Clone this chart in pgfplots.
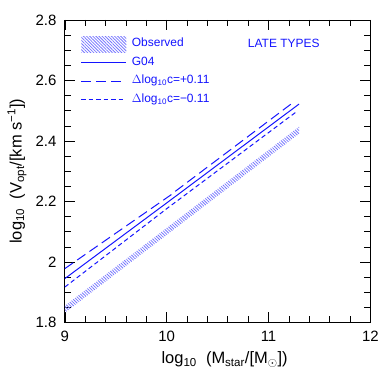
\documentclass[border=0pt]{standalone}
\usepackage{fontspec}
\setmainfont{Liberation Sans}
\usepackage{pgfplots}
\pgfplotsset{compat=1.18}
\usetikzlibrary{patterns.meta,decorations.markings}
\definecolor{lblue}{RGB}{20,20,255}
\definecolor{hblue}{RGB}{120,120,255}
% dashes drawn as short blue strokes along the path
\tikzset{
  bluedash/.style n args={2}{draw=none, postaction={decorate},
    decoration={markings, mark=between positions 0 and -#1 step #2 with
      {\draw[lblue, line width=1pt] (0pt,0pt) -- (#1,0pt);}}},
}
\begin{document}
\begin{tikzpicture}
\begin{axis}[
  scale only axis, width=306pt, height=303pt,
  xmin=9, xmax=12, ymin=1.8, ymax=2.8,
  xtick={9,10,11,12}, ytick={1.8,2,2.2,2.4,2.6,2.8},
  minor x tick num=4, minor y tick num=3,
  tick align=inside, tick pos=both,
  major tick length=10pt, minor tick length=6pt,
  tick style={black, line width=0.6pt},
  axis line style={line width=0.8pt},
  ticklabel style={font=\fontsize{15}{18}\selectfont},
  /pgf/number format/assume math mode=true,
  xticklabel style={yshift=-5pt},
  yticklabel style={xshift=-5pt},
  xlabel={log\textsubscript{10}\ \ (M\textsubscript{star}/[M\textsubscript{$\odot$}])},
  ylabel={log\textsubscript{10}\ \ (V\textsubscript{opt}/[km\ s\textsuperscript{−1}])},
  every axis x label/.style={at={(rel axis cs:0.523,-0.122)}, anchor=center,
    font=\fontsize{16.5}{19}\selectfont},
  every axis y label/.style={at={(rel axis cs:-0.157,0.5)}, rotate=90, anchor=center,
    font=\fontsize{16.5}{19}\selectfont},
  clip=false,
  legend image code/.code={\draw[#1] (0pt,0pt) -- (45pt,0pt);},
  legend style={at={(rel axis cs:0.052,0.948)}, anchor=north west, draw=none, fill=none,
    inner sep=0pt, row sep=1.5pt, column sep=3pt,
    nodes={text height=9pt, text depth=4pt},
    font=\fontsize{12}{14}\selectfont\color{lblue}},
  legend cell align=left,
]
% observed band
\addplot[draw=none, pattern={Lines[angle=-45,distance=2.2pt,line width=0.8pt]}, pattern color=hblue,
  legend image code/.code={\fill[pattern={Lines[angle=-45,distance=2.2pt,line width=0.8pt]}, pattern color=hblue] (0pt,-8pt) rectangle (45pt,8pt);}]
  coordinates {(9,1.832) (11.3,2.424) (11.3,2.447) (9,1.855)} -- cycle;
\addlegendentry{Observed}
\addplot[color=lblue, line width=1pt] coordinates {(9,1.945) (10,2.195) (11.3,2.522)};
\addlegendentry{G04}
\addplot[bluedash={10pt}{15pt},
  legend image code/.code={\path[bluedash={10pt}{15pt}] (0pt,0pt) -- (45pt,0pt);}]
  coordinates {(9,1.978) (10,2.212) (11.3,2.542)};
\addlegendentry{$\Delta$log\textsubscript{10}c=+0.11}
\addplot[bluedash={4.5pt}{7.5pt},
  legend image code/.code={\path[bluedash={4.5pt}{7.5pt}] (0pt,0pt) -- (45pt,0pt);}]
  coordinates {(9,1.917) (10,2.176) (11.3,2.503)};
\addlegendentry{$\Delta$log\textsubscript{10}c=−0.11}
\node[font=\fontsize{12}{14}\selectfont, text=lblue] at (axis cs:11.15,2.721) {LATE TYPES};
\path (rel axis cs:-0.2124,-0.1947) rectangle (rel axis cs:1.0359,1.066);
\end{axis}
\end{tikzpicture}
\end{document}
